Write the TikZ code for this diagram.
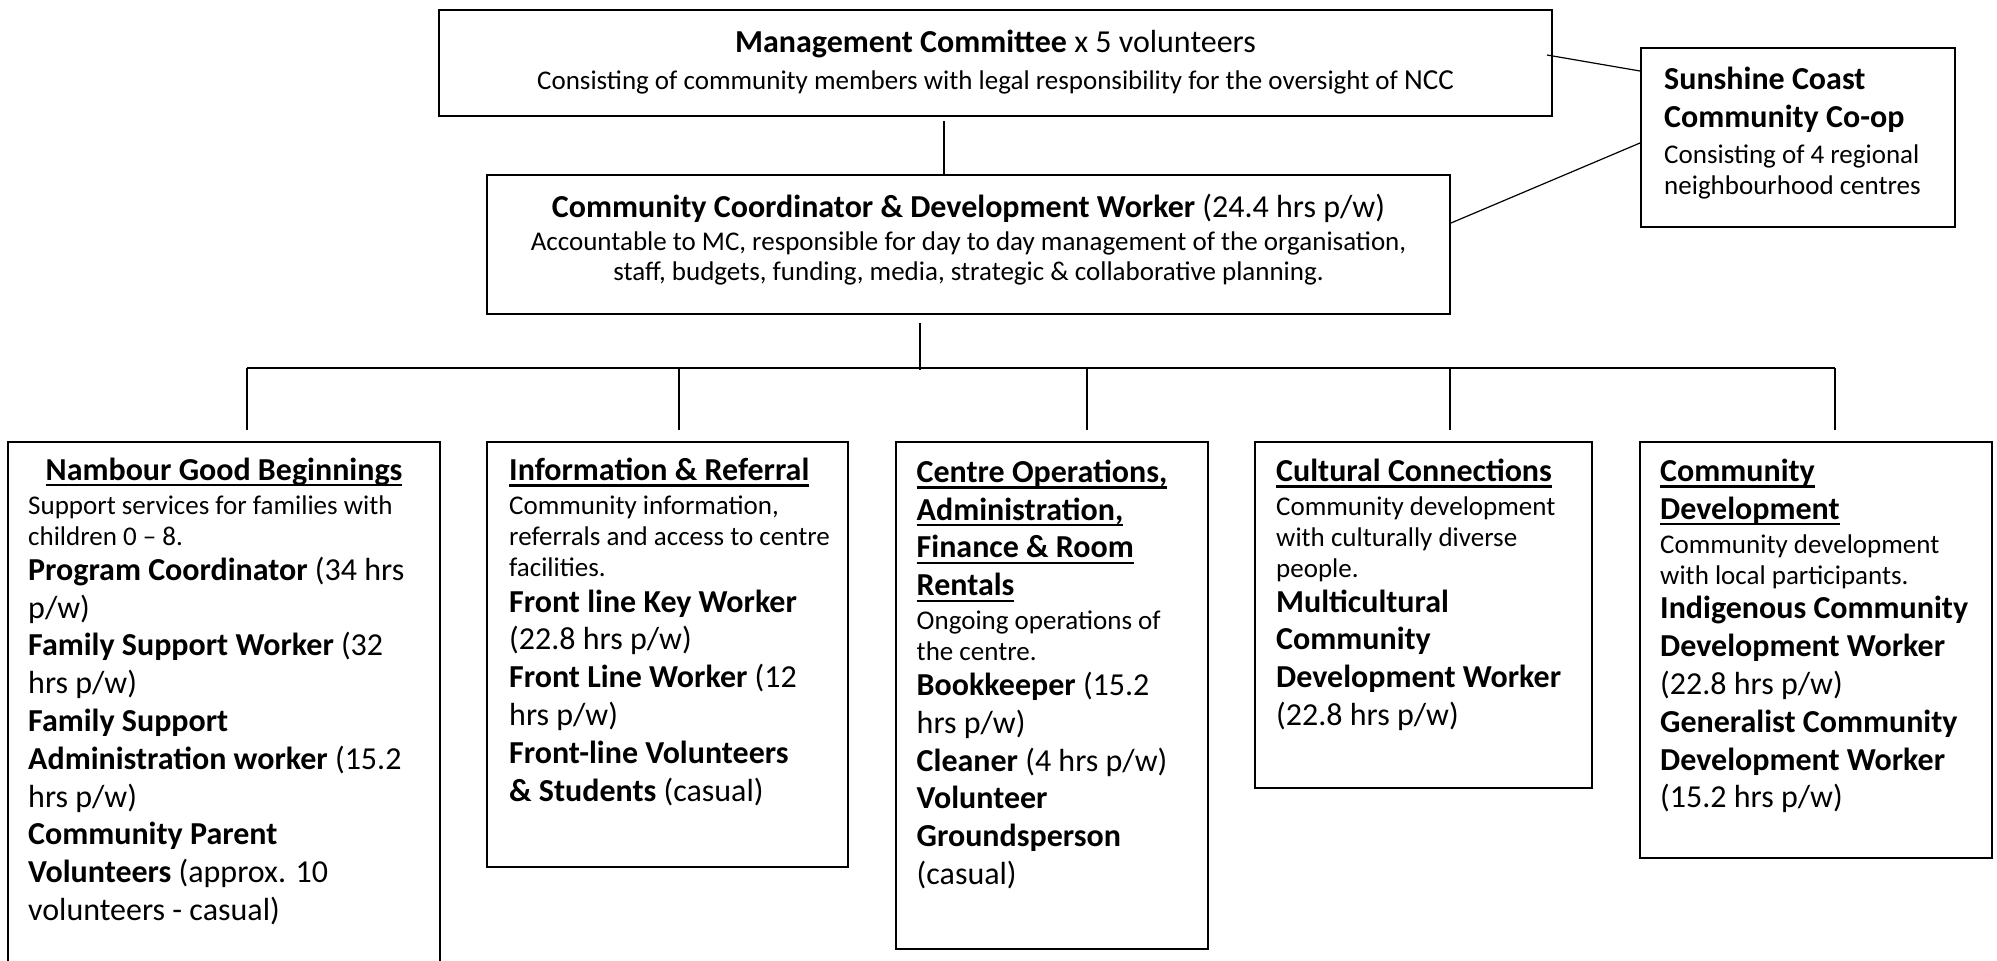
\documentclass[tikz,border=0pt]{standalone}
\usepackage{fontspec}
\setmainfont{Carlito}
\usetikzlibrary{calc}
\newsavebox\hulbox
\newcommand\hul[1]{\sbox\hulbox{#1}\rlap{\rule[-6.3pt]{\wd\hulbox}{2.3pt}}\usebox\hulbox}
\newcommand\Lg{\fontsize{32}{37.8}\selectfont}
\newcommand\Sm{\fontsize{27}{31}\selectfont}
\newcommand\fst{\rule{0pt}{27pt}}
\newcommand\nsk{\spaceskip=0pt\xspaceskip=0pt\relax}
\begin{document}
\begin{tikzpicture}[x=1pt,y=-1pt,
  box/.style={draw, line width=2pt, rectangle, inner sep=0pt},
  conn/.style={line width=1.2pt},
  txt/.style={anchor=north west, inner sep=0pt, text width=500pt, align=left},
  ctr/.style={anchor=base, inner sep=0pt}]
\useasboundingbox (0,0) rectangle (1997,961);

% boxes
\node[box, minimum width=1113pt, minimum height=106pt] (mc) at (995.5,63) {};
\node[box, minimum width=963pt, minimum height=139pt] (cc) at (968.5,244.5) {};
\node[box, minimum width=314pt, minimum height=179pt] (sc) at (1798,137.5) {};
\node[box, minimum width=432pt, minimum height=533pt] (b1) at (224,708.5) {};
\node[box, minimum width=361pt, minimum height=425pt] (b2) at (667.5,654.5) {};
\node[box, minimum width=312pt, minimum height=507pt] (b3) at (1052,695.5) {};
\node[box, minimum width=337pt, minimum height=346pt] (b4) at (1423.5,615) {};
\node[box, minimum width=352pt, minimum height=416pt] (b5) at (1816,650) {};

% top texts
\node[ctr] (mct) at (995.5,52) {\Lg\textbf{Management Committee} x 5 volunteers};
\node[ctr] (mcs) at (995.5,89) {\Sm Consisting of community members with legal responsibility for the oversight of {\fontsize{29}{30}\selectfont NCC}};
\node[ctr] (cct) at (968.5,217) {\Lg\textbf{Community Coordinator \& Development Worker} (24.4 hrs p/w)};
\node[ctr] (cc1) at (968.5,250) {\Sm Accountable to MC, responsible for day to day management of the organisation,};
\node[ctr] (cc2) at (968.5,280) {\Sm staff, budgets, funding, media, strategic \& collaborative planning.};

\node[txt] (sct) at (1664,62) {\nsk{\Lg\fst\textbf{Sunshine Coast}\\\textbf{Community Co-op}\par}\vspace{5pt}{\Sm Consisting of 4 regional\\neighbourhood centres\par}};

% branch texts
\node[ctr] (b1h) at (224,480) {\Lg\textbf{\hul{Nambour Good Beginnings}}};
\node[txt] (b1t) at (28,487) {\nsk{\Sm\fst Support services for families with\\children 0 -- 8.\par}\vspace{-2.8pt}{\Lg\textbf{Program Coordinator} (34 hrs\\p/w)\\\textbf{Family Support Worker} (32\\hrs p/w)\\\textbf{Family Support}\\\textbf{Administration worker} (15.2\\hrs p/w)\\\textbf{Community Parent}\\\textbf{Volunteers} (approx. 10\\volunteers - casual)\par}};

\node[txt] (b2t) at (509,453) {\nsk{\Lg\fst\textbf{\hul{Information \& Referral}}\par}\vspace{3pt}{\Sm Community information,\\referrals and access to centre\\facilities.\par}\vspace{-2pt}{\Lg\textbf{Front line Key Worker}\\(22.8 hrs p/w)\\\textbf{Front Line Worker} (12\\hrs p/w)\\\textbf{Front-line Volunteers}\\\textbf{\& Students} (casual)\par}};

\node[txt] (b3t) at (916.5,455) {\nsk{\Lg\fst\textbf{\hul{Centre Operations,}}\\\textbf{\hul{Administration,}}\\\textbf{\hul{Finance \& Room}}\\\textbf{\hul{Rentals}}\par}\vspace{3pt}{\Sm Ongoing operations of\\the centre.\par}\vspace{-3pt}{\Lg\textbf{Bookkeeper} (15.2\\hrs p/w)\\\textbf{Cleaner} (4 hrs p/w)\\\textbf{Volunteer}\\\textbf{Groundsperson}\\(casual)\par}};

\node[txt] (b4t) at (1276,454) {\nsk{\Lg\fst\textbf{\hul{Cultural Connections}}\par}\vspace{3pt}{\Sm Community development\\with culturally diverse\\people.\par}\vspace{-3pt}{\Lg\textbf{Multicultural}\\\textbf{Community}\\\textbf{Development Worker}\\(22.8 hrs p/w)\par}};

\node[txt] (b5t) at (1660,454) {\nsk{\Lg\fst\textbf{\hul{Community}}\\\textbf{\hul{Development}}\par}\vspace{3pt}{\Sm Community development\\with local participants.\par}\vspace{-3pt}{\Lg\textbf{Indigenous Community}\\\textbf{Development Worker}\\(22.8 hrs p/w)\\\textbf{Generalist Community}\\\textbf{Development Worker}\\(15.2 hrs p/w)\par}};

% connectors
\draw[conn] ($(mc.south)+(-51.5,4)$) -- ($(cc.north)+(-24.5,0)$);
\draw[conn] ($(mc.north east)+(-6,46)$) -- ($(sc.north west)+(0,24)$);
\draw[conn] ($(cc.north east)+(0,49)$) -- ($(sc.north west)+(0,96)$);
\coordinate (d1) at ($(b1.north)+(23,-73)$);
\coordinate (d2) at ($(b2.north)+(11.5,-73)$);
\coordinate (d3) at ($(b3.north)+(35,-73)$);
\coordinate (d4) at ($(b4.north)+(26.5,-73)$);
\coordinate (d5) at ($(b5.north)+(19,-73)$);
\draw[conn] ($(cc.south)+(-48.5,8)$) -- ($(cc.south)+(-48.5,55)$);
\draw[conn] (d1) -- (d5);
\draw[conn] (d1) -- ($(b1.north)+(23,-11)$);
\draw[conn] (d2) -- ($(b2.north)+(11.5,-11)$);
\draw[conn] (d3) -- ($(b3.north)+(35,-11)$);
\draw[conn] (d4) -- ($(b4.north)+(26.5,-11)$);
\draw[conn] (d5) -- ($(b5.north)+(19,-11)$);
\end{tikzpicture}
\end{document}
